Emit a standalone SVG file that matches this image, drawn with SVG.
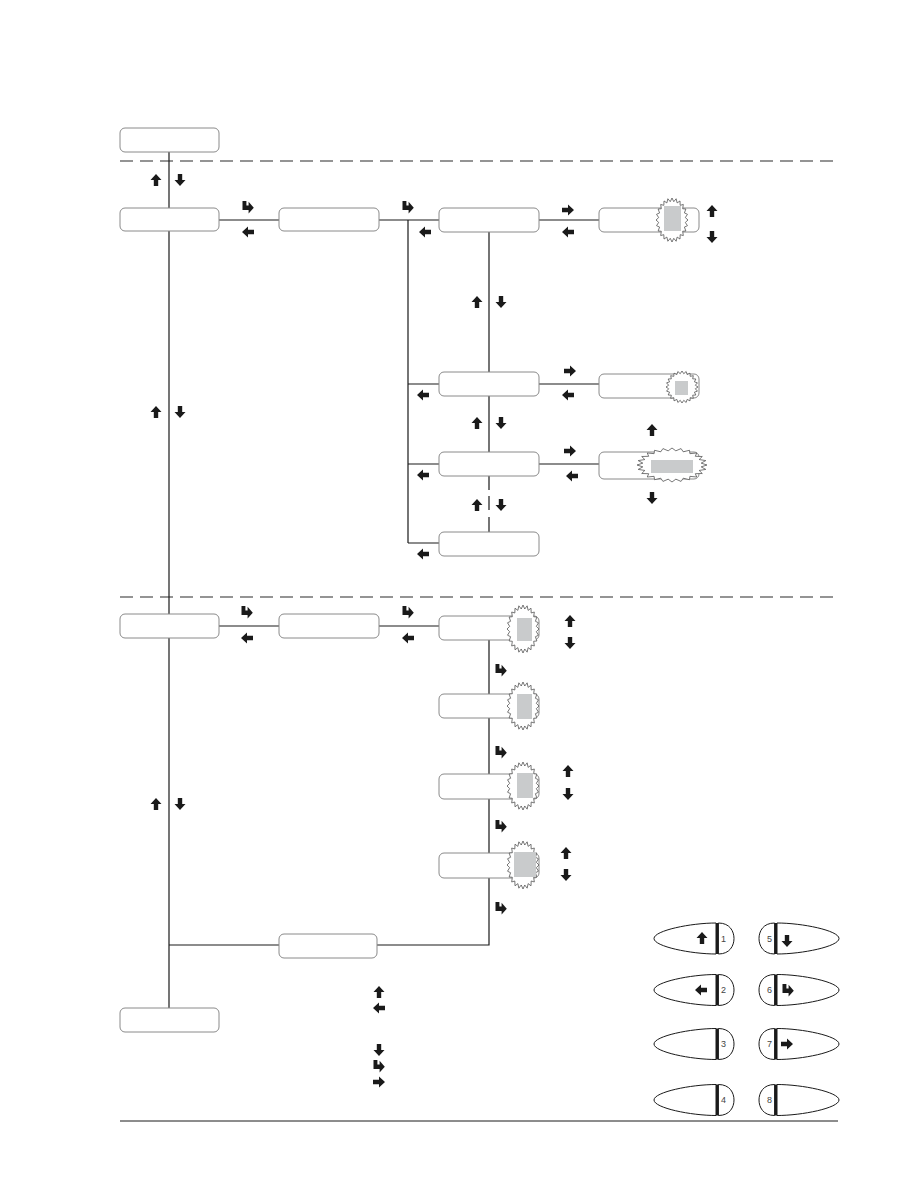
<svg xmlns="http://www.w3.org/2000/svg" xmlns:xlink="http://www.w3.org/1999/xlink" width="918" height="1188" viewBox="0 0 918 1188">
<style>
.node{fill:#fff;stroke:#8a8a8a;stroke-width:1}
.ln{fill:none;stroke:#1a1a1a;stroke-width:1.2}
.dash{fill:none;stroke:#2a2a2a;stroke-width:1.1;stroke-dasharray:13 7}
.ar{fill:#1a1a1a}
.star{fill:#fff;stroke:#555;stroke-width:0.8}
.gray{fill:#c9cbcc}
.key{fill:#fff;stroke:#1a1a1a;stroke-width:1}
.num{font-family:"Liberation Sans",Arial,sans-serif;font-size:9px;fill:#444;text-anchor:middle}
</style>
<defs>
<path id="up" d="M0,-6 L5.5,0 L2.2,0 L2.2,6 L-2.2,6 L-2.2,0 L-5.5,0 Z"/>
<path id="dn" d="M0,6 L5.5,0 L2.2,0 L2.2,-6 L-2.2,-6 L-2.2,0 L-5.5,0 Z"/>
<path id="lf" d="M-6,0 L0,-5.5 L0,-2.2 L6,-2.2 L6,2.2 L0,2.2 L0,5.5 Z"/>
<path id="rt" d="M6,0 L0,-5.5 L0,-2.2 L-6,-2.2 L-6,2.2 L0,2.2 L0,5.5 Z"/>
<path id="en" d="M-5.5,-6 L-1.6,-6 L-1.6,-1.4 L0.6,-1.4 L0.6,-5.2 L5.8,0.8 L0.6,6.5 L0.6,3 L-5.5,3 Z"/>
<polygon id="star" vector-effect="non-scaling-stroke" points="1,0 .8328,.1096 .9659,.2588 .7761,.3215 .866,.5 .6665,.5114 .7071,.7071 .5114,.6665 .5,.866 .3215,.7761 .2588,.9659 .1096,.8328 0,1 -.1096,.8328 -.2588,.9659 -.3215,.7761 -.5,.866 -.5114,.6665 -.7071,.7071 -.6665,.5114 -.866,.5 -.7761,.3215 -.9659,.2588 -.8328,.1096 -1,0 -.8328,-.1096 -.9659,-.2588 -.7761,-.3215 -.866,-.5 -.6665,-.5114 -.7071,-.7071 -.5114,-.6665 -.5,-.866 -.3215,-.7761 -.2588,-.9659 -.1096,-.8328 0,-1 .1096,-.8328 .2588,-.9659 .3215,-.7761 .5,-.866 .5114,-.6665 .7071,-.7071 .6665,-.5114 .866,-.5 .7761,-.3215 .9659,-.2588 .8328,-.1096"/>
<g id="keyL">
<path class="key" d="M0,-15.5 C-25,-15.5 -62,-8 -62,0 C-62,8 -25,15.5 0,15.5 Z"/>
<path class="key" d="M2.4,-15.5 C14,-15.5 18,-7 18,0 C18,7 14,15.5 2.4,15.5 Z"/>
<line x1="1.2" y1="-15.5" x2="1.2" y2="15.5" stroke="#1a1a1a" stroke-width="2.4"/>
</g>
<g id="keyR">
<path class="key" d="M0,-15.5 C25,-15.5 62,-8 62,0 C62,8 25,15.5 0,15.5 Z"/>
<path class="key" d="M-2.4,-15.5 C-14,-15.5 -18,-7 -18,0 C-18,7 -14,15.5 -2.4,15.5 Z"/>
<line x1="-1.2" y1="-15.5" x2="-1.2" y2="15.5" stroke="#1a1a1a" stroke-width="2.4"/>
</g>
</defs>
<rect width="918" height="1188" fill="#fff"/>

<g id="separators">
<line class="dash" x1="120" y1="161" x2="838" y2="161"/>
<line class="dash" x1="120" y1="597" x2="838" y2="597"/>
<line x1="120" y1="1121" x2="838" y2="1121" stroke="#1a1a1a" stroke-width="1"/>
</g>

<g id="connectors">
<path class="ln" d="M169,152 V1008"/>
<path class="ln" d="M219,220 H279 M379,220 H408 V543 M408,220 H439 M408,384 H439 M408,464 H439 M408,543 H439"/>
<path class="ln" d="M489,232 V372 M489,396 V452 M489,476 V490 M489,496 V510 M489,517 V532"/>
<path class="ln" d="M539,220 H599 M539,384 H599 M539,464 H599"/>
<path class="ln" d="M219,626 H279 M379,626 H439"/>
<path class="ln" d="M489,640 V945 H377 M279,945 H169"/>
</g>

<g id="n0"><rect class="node" x="120" y="128" width="99" height="24" rx="5"/></g>
<g id="n1"><rect class="node" x="120" y="208" width="99" height="23" rx="5"/></g>
<g id="n2"><rect class="node" x="279" y="208" width="100" height="23" rx="5"/></g>
<g id="n3"><rect class="node" x="439" y="208" width="100" height="24" rx="5"/></g>
<g id="n3b"><rect class="node" x="599" y="208" width="100" height="24" rx="5"/>
<use href="#star" class="star" transform="translate(672,220) scale(16,22)"/>
<rect class="gray" x="664" y="206" width="17" height="25"/></g>
<g id="n5"><rect class="node" x="439" y="372" width="100" height="24" rx="5"/></g>
<g id="n5b"><rect class="node" x="599" y="374" width="100" height="24" rx="5"/>
<use href="#star" class="star" transform="translate(682,387) scale(16,16)"/>
<rect class="gray" x="675" y="381" width="13" height="14"/></g>
<g id="n6"><rect class="node" x="439" y="452" width="100" height="24" rx="5"/></g>
<g id="n6b"><rect class="node" x="599" y="452" width="100" height="27" rx="5"/>
<use href="#star" class="star" transform="translate(672,465) scale(35,17)"/>
<rect class="gray" x="651" y="460" width="42" height="13"/></g>
<g id="n7"><rect class="node" x="439" y="532" width="100" height="24" rx="5"/></g>
<g id="n4"><rect class="node" x="120" y="614" width="99" height="24" rx="5"/></g>
<g id="n4b"><rect class="node" x="279" y="614" width="100" height="24" rx="5"/></g>
<g id="n8"><rect class="node" x="439" y="616" width="100" height="24" rx="5"/>
<use href="#star" class="star" transform="translate(523,629) scale(16,24)"/>
<rect class="gray" x="517" y="618" width="15" height="23"/></g>
<g id="n9"><rect class="node" x="439" y="694" width="100" height="24" rx="5"/>
<use href="#star" class="star" transform="translate(523,706) scale(16,24)"/>
<rect class="gray" x="517" y="694" width="15" height="25"/></g>
<g id="n10"><rect class="node" x="439" y="774" width="100" height="25" rx="5"/>
<use href="#star" class="star" transform="translate(523,786) scale(16,24)"/>
<rect class="gray" x="517" y="773" width="16" height="25"/></g>
<g id="n11"><rect class="node" x="439" y="853" width="100" height="25" rx="5"/>
<use href="#star" class="star" transform="translate(523,865) scale(16,24)"/>
<rect class="gray" x="514" y="852" width="22" height="25"/></g>
<g id="n12"><rect class="node" x="279" y="934" width="98" height="24" rx="5"/></g>
<g id="n13"><rect class="node" x="120" y="1008" width="99" height="24" rx="5"/></g>

<g id="arrows" class="ar">
<use href="#up" x="156" y="180"/><use href="#dn" x="180" y="180"/>
<use href="#en" x="248" y="207"/><use href="#lf" x="248" y="232"/>
<use href="#en" x="408" y="207"/><use href="#lf" x="425" y="232"/>
<use href="#rt" x="568" y="210"/><use href="#lf" x="568" y="232"/>
<use href="#up" x="712" y="211"/><use href="#dn" x="712" y="237"/>
<use href="#up" x="477" y="302"/><use href="#dn" x="501" y="302"/>
<use href="#rt" x="570" y="371"/><use href="#lf" x="568" y="395"/>
<use href="#lf" x="423" y="395"/>
<use href="#up" x="156" y="412"/><use href="#dn" x="180" y="412"/>
<use href="#up" x="477" y="423"/><use href="#dn" x="501" y="423"/>
<use href="#up" x="652" y="430"/>
<use href="#rt" x="570" y="451"/><use href="#lf" x="572" y="476"/>
<use href="#lf" x="423" y="475"/>
<use href="#dn" x="652" y="498"/>
<use href="#up" x="477" y="505"/><use href="#dn" x="501" y="505"/>
<use href="#lf" x="423" y="554"/>
<use href="#en" x="247" y="612"/><use href="#lf" x="247" y="638"/>
<use href="#en" x="408" y="612"/><use href="#lf" x="408" y="638"/>
<use href="#up" x="570" y="621"/><use href="#dn" x="570" y="643"/>
<use href="#en" x="501" y="670"/>
<use href="#en" x="501" y="752"/>
<use href="#up" x="568" y="771"/><use href="#dn" x="568" y="794"/>
<use href="#up" x="156" y="804"/><use href="#dn" x="180" y="804"/>
<use href="#en" x="501" y="826"/>
<use href="#up" x="566" y="853"/><use href="#dn" x="566" y="875"/>
<use href="#en" x="501" y="908"/>
<use href="#up" x="379" y="992"/><use href="#lf" x="379" y="1008"/>
<use href="#dn" x="379" y="1050"/><use href="#en" x="379" y="1066"/><use href="#rt" x="379" y="1082"/>
</g>

<g id="keypad">
<use href="#keyL" transform="translate(716,938.5)"/>
<use href="#keyL" transform="translate(716,990)"/>
<use href="#keyL" transform="translate(716,1044)"/>
<use href="#keyL" transform="translate(716,1100)"/>
<use href="#keyR" transform="translate(777,938.5)"/>
<use href="#keyR" transform="translate(777,990)"/>
<use href="#keyR" transform="translate(777,1044)"/>
<use href="#keyR" transform="translate(777,1100)"/>
<text class="num" x="723.5" y="941.5">1</text>
<text class="num" x="723.5" y="993">2</text>
<text class="num" x="723.5" y="1047">3</text>
<text class="num" x="723.5" y="1103">4</text>
<text class="num" x="769.5" y="941.5">5</text>
<text class="num" x="769.5" y="993">6</text>
<text class="num" x="769.5" y="1047">7</text>
<text class="num" x="769.5" y="1103">8</text>
<g class="ar">
<use href="#up" x="702" y="938"/>
<use href="#lf" x="701" y="990"/>
<use href="#dn" x="787" y="941"/>
<use href="#en" x="788" y="990"/>
<use href="#rt" x="787" y="1044"/>
</g>
</g>
</svg>
